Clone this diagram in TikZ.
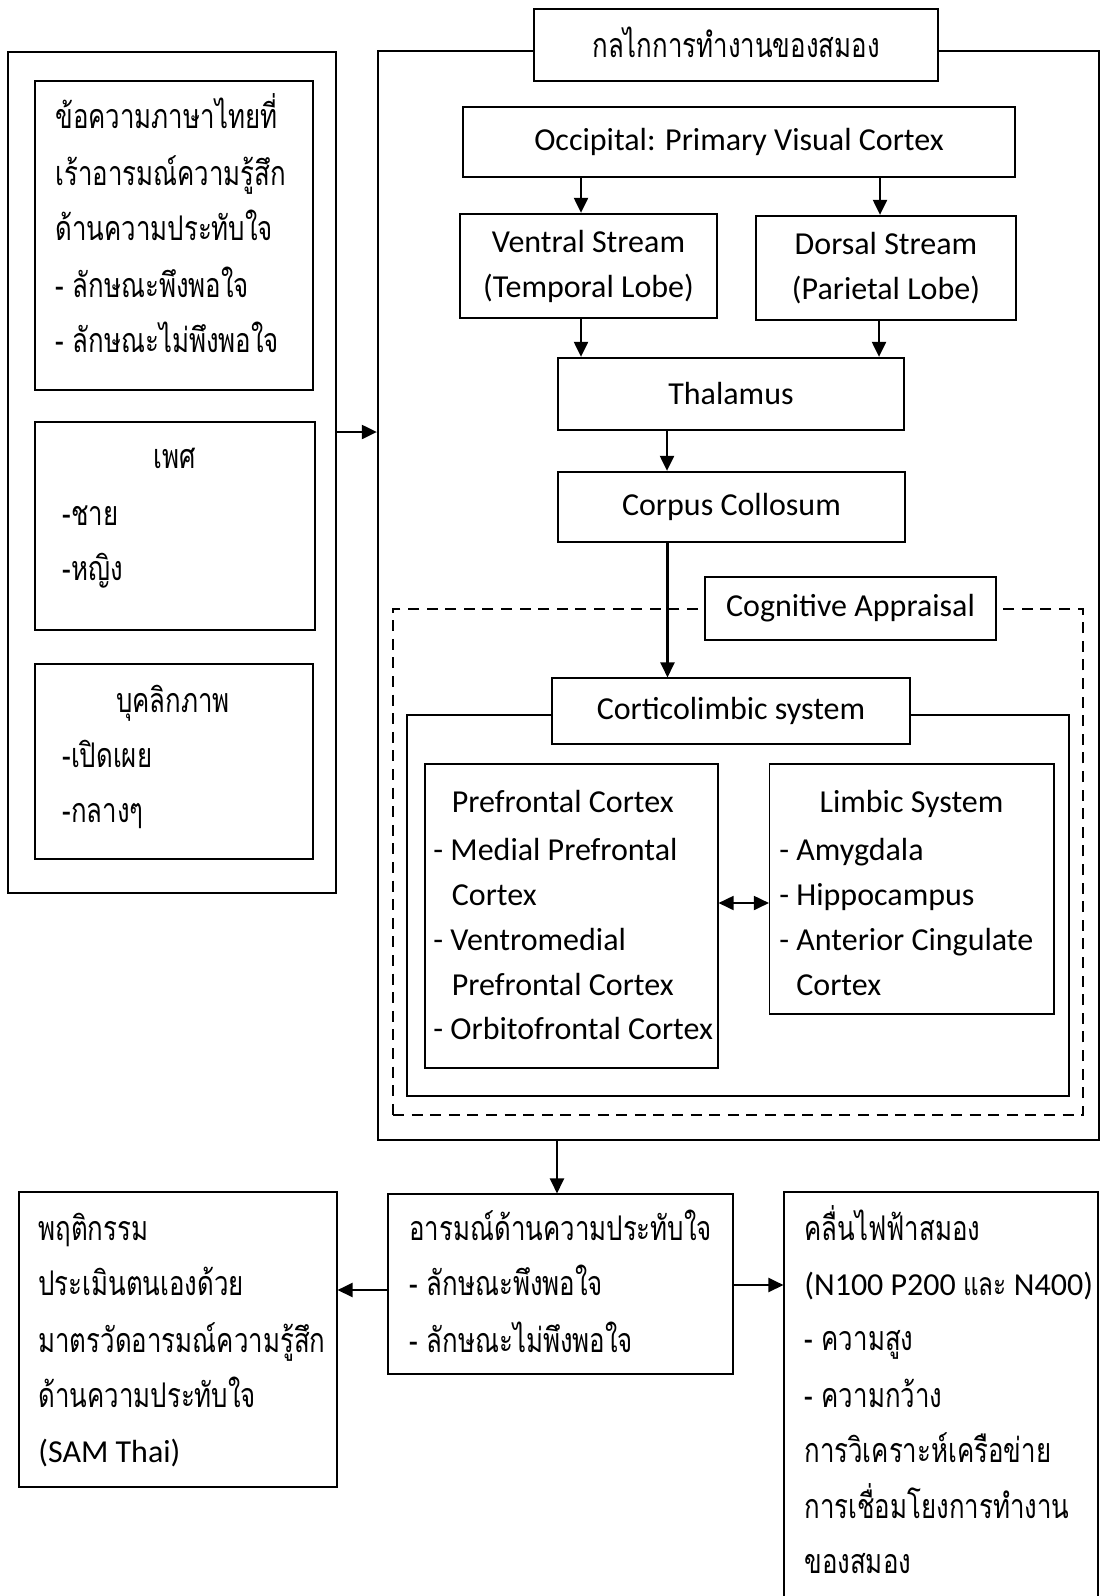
\documentclass[tikz,border=0pt]{standalone}
\usepackage{fontspec}
\newfontfamily\lat{Carlito}
\newfontfamily\thai[Script=Thai,FakeStretch=0.76]{Loma}
\setmainfont{Carlito}
\usetikzlibrary{arrows.meta,fit}

\tikzset{
  heavybox/.style={draw, line width=1.15pt, inner sep=0pt},
  lightbox/.style={draw, line width=0.55pt, inner sep=0pt},
  dashbox/.style={draw, line width=1.45pt, inner sep=0pt, dash pattern=on 5.5pt off 3.8pt},
  entxt/.style={inner sep=0pt, font=\lat\fontsize{16}{22.5}\selectfont, align=center},
  enln/.style={anchor=base west, inner sep=0pt, font=\lat\fontsize{16}{22.5}\selectfont},
  thln/.style={anchor=base west, inner sep=0pt, font=\thai\fontsize{17}{27.75}\selectfont},
  thmid/.style={anchor=base, inner sep=0pt, font=\thai\fontsize{17}{27.75}\selectfont},
  arr/.style={line width=1.1pt, -{Triangle[length=7.5pt,width=7pt]}},
  dbl/.style={line width=0.9pt, {Triangle[length=7.5pt,width=7pt]}-{Triangle[length=7.5pt,width=7pt]}},
}

\begin{document}
\begin{tikzpicture}[x=0.5pt, y=-0.5pt]
\useasboundingbox (0,0) rectangle (1100,1596);

% ---- left column: stimulus and participant factors
\node[heavybox, fit={(8,52)(336,893)}] (inputs) {};
\node[lightbox, fit={(35,81)(313,390)}] (stim) {};
\node[lightbox, fit={(35,422)(315,630)}] (sex) {};
\node[lightbox, fit={(35,664)(313,859)}] (pers) {};

\node[thln] (stim1) at (55,128) {ข้อความภาษาไทยที่};
\node[thln] (stim2) at (55,185) {เร้าอารมณ์ความรู้สึก};
\node[thln] (stim3) at (55,240) {ด้านความประทับใจ};
\node[thln] (stim4) at (55,297) {- ลักษณะพึงพอใจ};
\node[thln] (stim5) at (55,352) {- ลักษณะไม่พึงพอใจ};

\node[thmid] (sex1) at (175,468) {เพศ};
\node[thln] (sex2) at (62,525) {-ชาย};
\node[thln] (sex3) at (62,580) {-หญิง};

\node[thmid] (pers1) at (173,712) {บุคลิกภาพ};
\node[thln] (pers2) at (62,767) {-เปิดเผย};
\node[thln] (pers3) at (62,822) {-กลางๆ};

% ---- brain mechanism frame
\node[heavybox, fit={(378,51)(1099,1140)}] (brain) {};
\node[heavybox, fill=white, fit={(534,9)(938,81)}] (title) {};
\node[thmid] (title-t) at (736,57) {กลไกการทำงานของสมอง};

\node[heavybox, fit={(463,107)(1015,177)}] (occ) {};
\node[heavybox, fit={(460,214)(717,318)}] (ventral) {};
\node[heavybox, fit={(756,216)(1016,320)}] (dorsal) {};
\node[heavybox, fit={(558,358)(904,430)}] (thal) {};
\node[heavybox, fit={(558,472)(905,542)}] (corpus) {};

\node[entxt] (occ-t) at (occ.center) {Occipital: Primary Visual Cortex};
\node[entxt] (ventral-t) at (ventral.center) {Ventral Stream\\(Temporal Lobe)};
\node[entxt] (dorsal-t) at (dorsal.center) {Dorsal Stream\\(Parietal Lobe)};
\node[entxt] (thal-t) at (thal.center) {Thalamus};
\node[entxt] (corpus-t) at (corpus.center) {Corpus Collosum};

% cognitive appraisal region
\node[dashbox, fit={(393,609)(1083,1115)}] (appraisal) {};
\node[lightbox, fill=white, fit={(705,577)(996,640)}] (apptitle) {};
\node[entxt] (apptitle-t) at (apptitle.center) {Cognitive Appraisal};
\node[heavybox, fit={(407,715)(1069,1096)}] (limbicsys) {};
\node[lightbox, fill=white, fit={(552,678)(910,744)}] (cortico) {};
\node[entxt] (cortico-t) at (cortico.center) {Corticolimbic system};

\node[lightbox, fit={(425,764)(718,1068)}] (pfc) {};
\node[lightbox, fit={(769.5,764)(1054,1014)}] (lim) {};

\node[enln] (pfc1) at (451.5,812) {Prefrontal Cortex};
\node[enln] (pfc2) at (433,860) {- Medial Prefrontal};
\node[enln] (pfc3) at (451.5,905) {Cortex};
\node[enln] (pfc4) at (433,950) {- Ventromedial};
\node[enln] (pfc5) at (451.5,995) {Prefrontal Cortex};
\node[enln] (pfc6) at (433,1039) {- Orbitofrontal Cortex};

\node[entxt, anchor=base] (lim1) at (911.5,812) {Limbic System};
\node[enln] (lim2) at (779,860) {- Amygdala};
\node[enln] (lim3) at (779,905) {- Hippocampus};
\node[enln] (lim4) at (779,950) {- Anterior Cingulate};
\node[enln] (lim5) at (796,995) {Cortex};

% ---- outcome boxes
\node[lightbox, fit={(388,1194)(733,1374)}] (emo) {};
\node[lightbox, fit={(19,1192)(337,1487)}] (sam) {};
\node[lightbox, fit={(784,1192)(1098,1640)}] (eeg) {};

\node[thln] (emo1) at (409,1240) {อารมณ์ด้านความประทับใจ};
\node[thln] (emo2) at (409,1295) {- ลักษณะพึงพอใจ};
\node[thln] (emo3) at (409,1352) {- ลักษณะไม่พึงพอใจ};

\node[thln] (sam1) at (38,1240) {พฤติกรรม};
\node[thln] (sam2) at (38,1295) {ประเมินตนเองด้วย};
\node[thln] (sam3) at (38,1352) {มาตรวัดอารมณ์ความรู้สึก};
\node[thln] (sam4) at (38,1407) {ด้านความประทับใจ};
\node[enln] (sam5) at (38,1462) {(SAM Thai)};

\node[thln] (eeg1) at (804,1240) {คลื่นไฟฟ้าสมอง};
\node[enln] (eeg2) at (804,1295) {(N100 P200 {\thai และ} N400)};
\node[thln] (eeg3) at (804,1350) {- ความสูง};
\node[thln] (eeg4) at (804,1407) {- ความกว้าง};
\node[thln] (eeg5) at (804,1462) {การวิเคราะห์เครือข่าย};
\node[thln] (eeg6) at (804,1518) {การเชื่อมโยงการทำงาน};
\node[thln] (eeg7) at (804,1573) {ของสมอง};

% ---- connectors
\draw[arr] ([yshift=20.25pt]inputs.east) -- ([yshift=20.25pt]inputs.east -| brain.west);
\draw[arr] ([xshift=-3.75pt]ventral.north |- occ.south) -- ([xshift=-3.75pt]ventral.north);
\draw[arr] ([xshift=-3pt]dorsal.north |- occ.south) -- ([xshift=-3pt]dorsal.north);
\draw[arr] ([xshift=-3.75pt]ventral.south) -- ([xshift=-3.75pt]ventral.south |- thal.north);
\draw[arr] ([xshift=-3.5pt]dorsal.south) -- ([xshift=-3.5pt]dorsal.south |- thal.north);
\draw[arr] ([xshift=-32pt]thal.south) -- ([xshift=-32pt]thal.south |- corpus.north);
\draw[arr] ([xshift=-32pt]corpus.south) -- ([xshift=-32pt]corpus.south |- cortico.north);
\draw[dbl] ([yshift=6.5pt]pfc.east) -- ([yshift=6.5pt]pfc.east -| lim.west);
\draw[arr] ([xshift=-1.75pt]emo.north |- brain.south) -- ([xshift=-1.75pt]emo.north);
\draw[arr] ([yshift=-3pt]emo.west) -- ([yshift=-3pt]emo.west -| sam.east);
\draw[arr] ([yshift=-0.5pt]emo.east) -- ([yshift=-0.5pt]emo.east -| eeg.west);
\end{tikzpicture}
\end{document}
